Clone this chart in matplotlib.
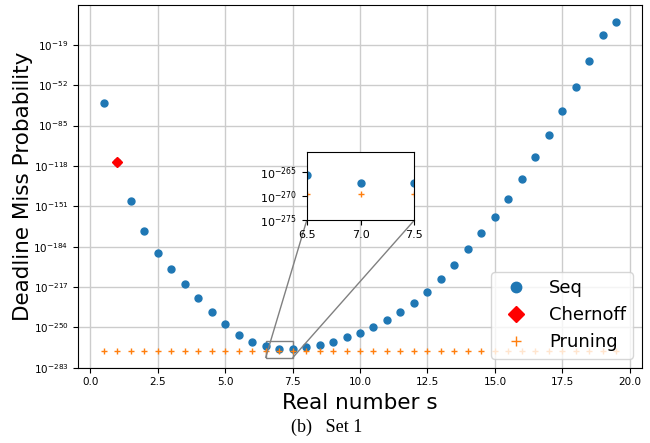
"""
Deadline miss probability vs real number s, with zoomed inset
"""

import matplotlib
matplotlib.use('Agg')
import matplotlib.pyplot as plt
import numpy as np
from matplotlib.ticker import NullLocator
from mpl_toolkits.axes_grid1.inset_locator import mark_inset

# Values (log10 of the probability)
s = [0.5, 1.0, 1.5, 2.0, 2.5, 3.0, 3.5, 4.0, 4.5, 5.0,
     5.5, 6.0, 6.5, 7.0, 7.5, 8.0, 8.5, 9.0, 9.5, 10.0,
     10.5, 11.0, 11.5, 12.0, 12.5, 13.0, 13.5, 14.0, 14.5, 15.0,
     15.5, 16.0, 16.5, 17.0, 17.5, 18.0, 18.5, 19.0, 19.5]
seq_log = [-66.5, -114.5, -146.6, -171.4, -189.2, -202.5, -214.8, -226.2, -237.2, -247.2,
           -256.0, -261.8, -265.6, -267.4, -267.4, -266.0, -264.2, -261.6, -258.3, -254.3,
           -249.7, -244.0, -237.4, -229.8, -221.1, -210.7, -199.0, -185.9, -173.0, -159.5,
           -144.7, -128.6, -110.9, -92.6, -73.2, -53.1, -32.3, -10.8, 0.1]
chernoff_s = [1.0]
chernoff_log = [-114.5]
pruning_log = [-269.5] * len(s)

seq = 10.0 ** np.array(seq_log)
chernoff = 10.0 ** np.array(chernoff_log)
pruning = 10.0 ** np.array(pruning_log)

fig = plt.figure(figsize=(6.5, 4.43), dpi=100)
ax = fig.add_axes([0.12, 0.17, 0.8677, 0.8187])

ax.plot(s, seq, 'o', color='#1f77b4', markersize=5, label='Seq')
ax.plot(chernoff_s, chernoff, 'D', color='red', markersize=5.5, label='Chernoff')
ax.plot(s, pruning, '+', color='#ff7f0e', markersize=5, label='Pruning')

ax.set_yscale('log')
ax.set_ylim(1e-283, 10.0 ** 13.6)
ax.set_yticks([10.0 ** e for e in range(-283, 14, 33)])
ax.yaxis.set_minor_locator(NullLocator())
ax.tick_params(labelsize=7.5)
ax.grid(True, color='#cccccc', linewidth=1.0)
ax.set_axisbelow(True)

ax.set_xlabel('Real number s', fontsize=15.5)
ax.set_ylabel('Deadline Miss Probability', fontsize=15.5, labelpad=0)

ax.legend(loc='lower right', fontsize=13, markerscale=1.5)

# Zoomed inset around the minimum
axins = fig.add_axes([0.472, 0.503, 0.1655, 0.153])
axins.plot(s, seq, 'o', color='#1f77b4', markersize=5)
axins.plot(s, pruning, '+', color='#ff7f0e', markersize=5)
axins.set_yscale('log')
axins.set_xlim(6.5, 7.5)
axins.set_ylim(1e-275, 1e-261)
axins.set_xticks([6.5, 7.0, 7.5])
axins.set_yticks([1e-275, 1e-270, 1e-265])
axins.yaxis.set_minor_locator(NullLocator())
axins.tick_params(labelsize=8)
mark_inset(ax, axins, loc1=3, loc2=4, fc='none', ec='0.5')

# Caption
fig.text(0.503, 0.035, '(b)   Set 1', family='Liberation Serif',
         fontsize=13, ha='center', va='center')

fig.savefig('out.png', dpi=100)
